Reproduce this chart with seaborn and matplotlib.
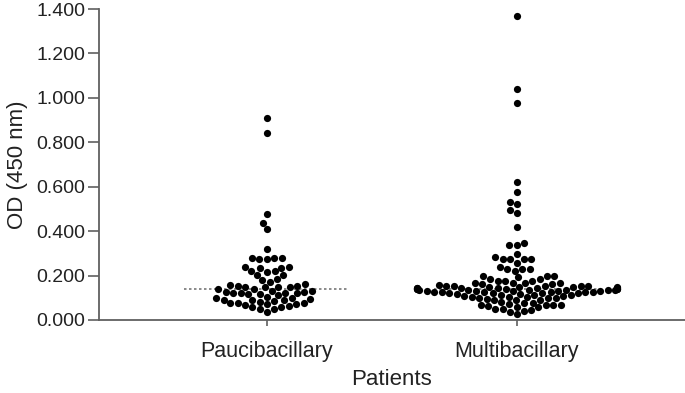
import numpy as np
import pandas as pd
import matplotlib
matplotlib.use("Agg")
import matplotlib.pyplot as plt
import seaborn as sns
from matplotlib.ticker import FormatStrFormatter

categories = ["Paucibacillary", "Multibacillary"]

pauci = [
    0.91, 0.84, 0.477, 0.436, 0.408, 0.32,
    0.281, 0.278, 0.273, 0.278, 0.273,
    0.24, 0.236, 0.233, 0.24,
    0.222, 0.221, 0.218, 0.203, 0.203, 0.183, 0.18, 0.173,
    0.162, 0.158, 0.153, 0.153, 0.147, 0.147, 0.147,
    0.138, 0.138, 0.132, 0.128, 0.128, 0.123, 0.123, 0.12, 0.12,
    0.117, 0.117, 0.113, 0.105, 0.098, 0.098, 0.093, 0.09, 0.09,
    0.087, 0.083, 0.078, 0.075, 0.075, 0.072, 0.072, 0.068,
    0.063, 0.06, 0.057, 0.048, 0.048, 0.038, 0.09, 0.13, 0.15,
]

multi = [
    1.37, 1.04, 0.975, 0.623, 0.578, 0.533, 0.523, 0.495, 0.48, 0.42,
    0.348, 0.338, 0.338, 0.296, 0.282, 0.273, 0.273, 0.273, 0.273,
    0.258, 0.237, 0.231, 0.231, 0.231, 0.222,
    0.198, 0.198, 0.198, 0.192, 0.183, 0.183, 0.177, 0.177, 0.177,
    0.168, 0.168, 0.168, 0.168, 0.16, 0.16,
    0.155, 0.153, 0.151, 0.156, 0.152, 0.154,
    0.147, 0.145, 0.143, 0.146, 0.144, 0.148, 0.142, 0.141,
    0.139, 0.137, 0.136, 0.138, 0.135, 0.134, 0.140, 0.133,
    0.130, 0.128, 0.126, 0.129, 0.127, 0.125, 0.131, 0.124,
    0.12, 0.122, 0.118, 0.121, 0.113, 0.115, 0.111, 0.113,
    0.105, 0.107, 0.103, 0.106, 0.104, 0.098, 0.1, 0.096, 0.097,
    0.09, 0.092, 0.088, 0.078, 0.08, 0.076,
    0.068, 0.07, 0.066, 0.069, 0.067, 0.06, 0.062, 0.058,
    0.048, 0.05, 0.046, 0.038, 0.04, 0.027,
    0.132, 0.13, 0.134, 0.125, 0.123, 0.142, 0.14, 0.15, 0.149,
]

df = pd.DataFrame({
    "Patients": [categories[0]] * len(pauci) + [categories[1]] * len(multi),
    "OD": pauci + multi,
})

sns.set_style("white")
plt.rcParams["font.family"] = ["Liberation Sans", "DejaVu Sans"]

fig = plt.figure(figsize=(6.85, 3.93), dpi=100)
ax = fig.add_axes([0.1445, 0.1858, 0.8555, 0.7912])

sns.swarmplot(data=df, x="Patients", y="OD", order=categories,
              color="black", size=5.2, ax=ax, linewidth=0, warn_thresh=1)

for i, vals in enumerate([pauci, multi]):
    med = float(np.median(vals))
    ax.hlines(med, i - 0.33, i + 0.33, colors="#777777",
              linestyles=(0, (1.5, 1.5)), linewidth=1.2, zorder=0)

ax.set_xlim(-0.672, 1.672)
ax.set_ylim(0, 1.4)
ax.set_yticks(np.arange(0, 1.41, 0.2))
ax.yaxis.set_major_formatter(FormatStrFormatter("%.3f"))

for s in ["top", "right"]:
    ax.spines[s].set_visible(False)
for s in ["left", "bottom"]:
    ax.spines[s].set_color("#606060")
    ax.spines[s].set_linewidth(1.3)

ax.tick_params(axis="y", direction="out", length=8, width=1.2, color="#606060",
               labelsize=14, labelcolor="#222222", left=True, pad=2)
ax.tick_params(axis="x", direction="out", length=4, width=1.2, color="#606060",
               labelsize=15.5, labelcolor="#222222", bottom=True, pad=11)

ax.set_xlabel("Patients", fontsize=16, color="#222222", labelpad=5)
ax.set_ylabel("OD (450 nm)", fontsize=16, color="#222222", labelpad=6)

fig.savefig("out.png", dpi=100)
